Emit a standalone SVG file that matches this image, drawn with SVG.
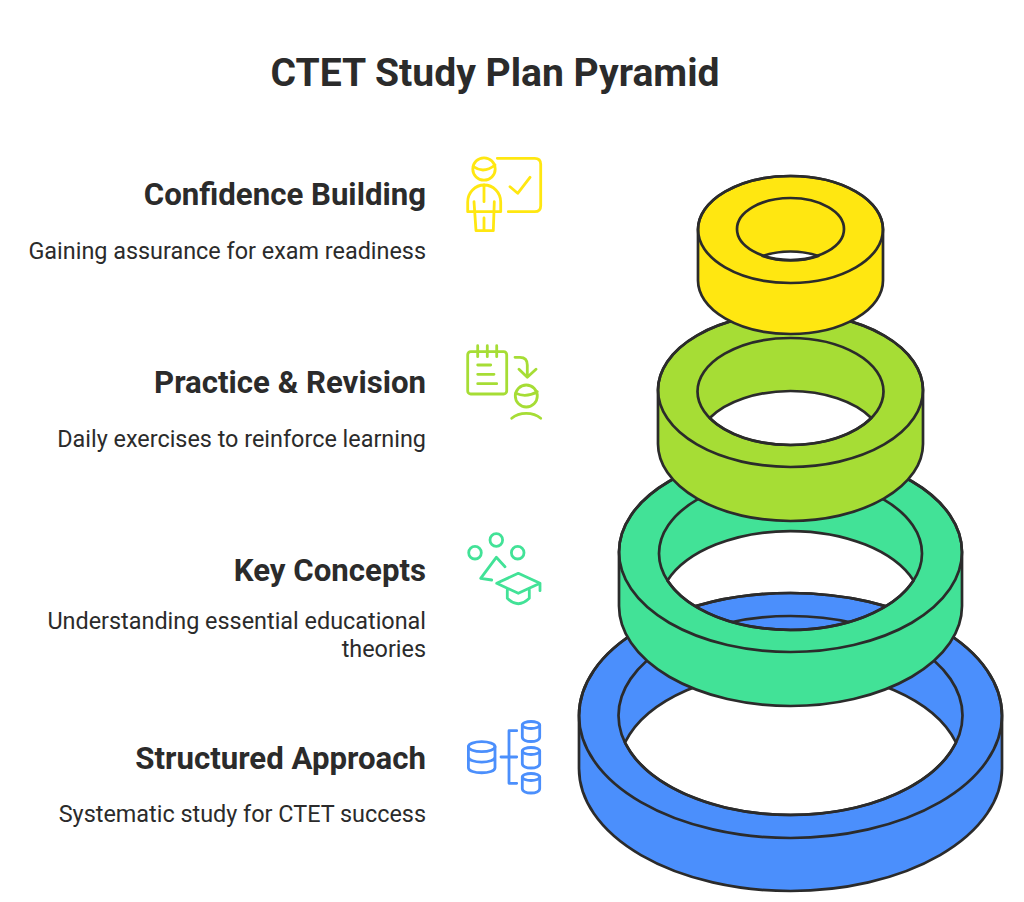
<svg xmlns="http://www.w3.org/2000/svg" width="1024" height="902" viewBox="0 0 1024 902">
<style>
text{font-family:Roboto,"Liberation Sans",sans-serif;fill:#2b2b2b}
.t{font-size:39.1px;font-weight:700;text-anchor:middle}
.h{font-size:31.2px;font-weight:700;text-anchor:end}
.d{font-size:23.4px;text-anchor:end}
.r path,.r ellipse{stroke:#2b2b2b;stroke-width:2.7;stroke-linejoin:round}
.r path{fill-rule:evenodd}
.r ellipse{fill:none}
.i *{fill:none;stroke-width:2.8;stroke-linecap:round;stroke-linejoin:round}
</style>
<rect width="1024" height="902" fill="#fff"/>
<text class="t" x="495" y="86">CTET Study Plan Pyramid</text>
<g id="ring-blue" class="r">
<path fill="#4b8ffc" d="M579 715.5A211.500 122.500 0 0 1 1002 715.500V768.500A211.500 122.500 0 0 1 579 768.500ZM625 742.500A172 99.500 0 0 1 956 742.500A172 99.500 0 0 1 625 742.500Z"/>
<ellipse cx="790.500" cy="715.500" rx="211.500" ry="122.500"/>
<ellipse cx="790.500" cy="715.500" rx="172" ry="99.500"/>
</g>
<g id="ring-teal" class="r">
<path fill="#42e297" d="M619 552A171.500 100 0 0 1 962 552V606A171.500 100 0 0 1 619 606ZM667.500 580.500A131.500 76.500 0 0 1 913.500 580.500A131.500 76.500 0 0 1 667.500 580.500Z"/>
<ellipse cx="790.500" cy="552" rx="171.500" ry="100"/>
<ellipse cx="790.500" cy="553.500" rx="131.500" ry="76.500"/>
</g>
<g id="ring-lime" class="r">
<path fill="#a6dd35" d="M658 390A132.500 77 0 0 1 923 390V444A132.500 77 0 0 1 658 444ZM709.700 418A93 53.500 0 0 1 871.300 418A93 53.500 0 0 1 709.700 418Z"/>
<ellipse cx="790.500" cy="390" rx="132.500" ry="77"/>
<ellipse cx="790.500" cy="391.500" rx="93" ry="53.500"/>
</g>
<g id="ring-yellow" class="r">
<path fill="#ffe711" d="M698 229.500A92.500 53.500 0 0 1 883 229.500V280.500A92.500 53.500 0 0 1 698 280.500ZM762.700 256A53.500 31 0 0 1 818.300 256A53.500 31 0 0 1 762.700 256Z"/>
<ellipse cx="790.500" cy="229.500" rx="92.500" ry="53.500"/>
<ellipse cx="790.500" cy="229" rx="53.500" ry="31"/>
</g>
<g id="node-confidence">
<text class="h" x="426" y="204.700">Confidence Building</text>
<text class="d" x="426" y="258.500">Gaining assurance for exam readiness</text>
<g class="i">
<path stroke="#ffe711" d="M497.300 158.300H534.700Q540.700 158.300 540.700 164.300V205.700Q540.700 211.700 534.700 211.700H508.300M510 186.700L517.700 193.300L530 177.300"/>
<circle stroke="#ffe711" cx="484" cy="169" r="11.200"/>
<path stroke="#ffe711" d="M473.300 166.700Q484 174 495 165M467.700 211.700V202A16.500 17 0 0 1 500.700 202V211.700ZM484 185V201.700M474 201.700L476 230.700H493.300L494.300 201.700M484 218V230.700"/>
</g>
</g>
<g id="node-practice">
<text class="h" x="426" y="392.700">Practice &amp; Revision</text>
<text class="d" x="426" y="446.500">Daily exercises to reinforce learning</text>
<g class="i">
<rect stroke="#a6dd35" x="467.700" y="351.700" width="39" height="42.300" rx="3"/>
<path stroke="#a6dd35" d="M477.700 345.700V356.700M487.300 345.700V356.700M496.700 345.700V356.700M477.700 365H490.700M477.700 374.300H494M477.700 383.700H496.700M515 357.300H520Q527.300 357.300 527.300 365V377.300M519 369.300L527.300 377.300L536 369.300"/>
<circle stroke="#a6dd35" cx="526.300" cy="396" r="11"/>
<path stroke="#a6dd35" d="M515.700 393.300Q526.300 398 537.300 391.700M511.700 418.300A19 14 0 0 1 540.700 418.300"/>
</g>
</g>
<g id="node-concepts">
<text class="h" x="426" y="580.700">Key Concepts</text>
<text class="d" x="426" y="628.500">Understanding essential educational</text>
<text class="d" x="426" y="656.500">theories</text>
<g class="i">
<circle stroke="#42e297" cx="475" cy="552.700" r="6.300"/>
<circle stroke="#42e297" cx="496.300" cy="540" r="6.300"/>
<circle stroke="#42e297" cx="517.700" cy="552.700" r="6.300"/>
<path stroke="#42e297" d="M505 566.700L496.300 557.300L480.700 578.300L491.700 580M496.700 583.300L518.300 573.300L540 583.300L518.300 593.300ZM540 583.300V590.700M507.300 589V598.300Q518.300 609 529.300 598.300V589"/>
</g>
</g>
<g id="node-structured">
<text class="h" x="426" y="768.700">Structured Approach</text>
<text class="d" x="426" y="821.500">Systematic study for CTET success</text>
<g class="i">
<ellipse stroke="#4b8ffc" cx="481.700" cy="746.700" rx="13.300" ry="5"/>
<path stroke="#4b8ffc" d="M468.400 746.700V767.700C468.400 774.400 495 774.400 495 767.700V746.700M468.400 757C468.400 763.700 495 763.700 495 757M516.700 730.700H509V783.300H516.700M501 757H516.700"/>
<ellipse stroke="#4b8ffc" cx="531" cy="725" rx="8.700" ry="3.500"/>
<path stroke="#4b8ffc" d="M522.300 725V737C522.300 743 539.700 743 539.700 737V725"/>
<ellipse stroke="#4b8ffc" cx="531" cy="751" rx="8.700" ry="3.500"/>
<path stroke="#4b8ffc" d="M522.300 751V763.500C522.300 769.500 539.700 769.500 539.700 763.500V751"/>
<ellipse stroke="#4b8ffc" cx="531" cy="777" rx="8.700" ry="3.500"/>
<path stroke="#4b8ffc" d="M522.300 777V788.500C522.300 794.500 539.700 794.500 539.700 788.500V777"/>
</g>
</g>
</svg>
